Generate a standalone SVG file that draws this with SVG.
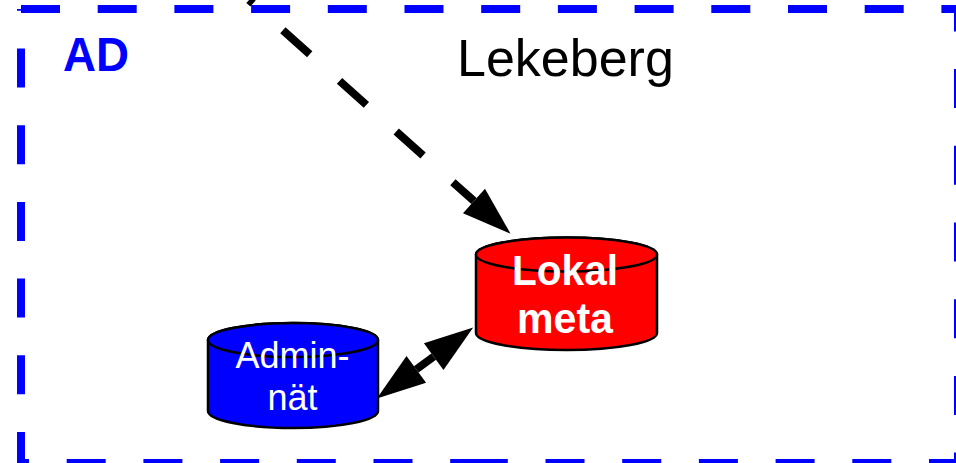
<svg xmlns="http://www.w3.org/2000/svg" width="956" height="463" viewBox="0 0 956 463">
  <style>
    .frame { fill: none; stroke: #0000FF; stroke-width: 8; stroke-dasharray: 39 37.7; }
    .cyl { stroke: #000; stroke-width: 2.5; }
    .txt { font-family: "Liberation Sans", Arial, sans-serif; }
    .conn { stroke: #000; stroke-width: 8; fill: none; }
  </style>
  <defs>
    <marker id="arrow" markerUnits="userSpaceOnUse" viewBox="0 -17 50 34" markerWidth="50" markerHeight="34" refX="0" refY="0" orient="auto-start-reverse" overflow="visible">
      <path d="M0,-16.5 L49,0 L0,16.5 Z" fill="#000"/>
    </marker>
  </defs>
  <rect width="956" height="463" fill="#fff"/>

  <g id="region-AD">
    <line class="frame" x1="21" y1="9" x2="958" y2="9" stroke-dashoffset="0"/>
    <line class="frame" x1="958" y1="9" x2="958" y2="463" stroke-dashoffset="16.6"/>
    <line class="frame" x1="958" y1="463" x2="468" y2="463" stroke-dashoffset="10"/>
    <line class="frame" x1="21" y1="463" x2="490" y2="463" stroke-dashoffset="31"/>
    <line class="frame" x1="21" y1="463" x2="21" y2="9" stroke-dashoffset="8"/>
    <text class="txt" x="63" y="71" font-size="49" font-weight="bold" fill="#0000FF" textLength="66" lengthAdjust="spacingAndGlyphs">AD</text>
    <text class="txt" x="457" y="76" font-size="52" fill="#000">Lekeberg</text>
  </g>

  <g id="connectors">
    <line class="conn" x1="249" y1="0" x2="474" y2="201" stroke-dasharray="36 40" stroke-dashoffset="30.6" marker-end="url(#arrow)"/>
    <line class="conn" x1="416.3" y1="369.4" x2="433.7" y2="356.6" marker-start="url(#arrow)" marker-end="url(#arrow)"/>
  </g>

  <g id="lokal-meta">
    <path class="cyl" fill="#FF0000" d="M476,254.5 V333 A90.5,17 0 0 0 657,333 V254.5 A90.5,17 0 0 0 476,254.5 Z"/>
    <ellipse class="cyl" fill="#FF0000" cx="566.5" cy="254.5" rx="90.5" ry="17"/>
    <text class="txt" x="565" y="285" font-size="43" font-weight="bold" fill="#fff" text-anchor="middle" textLength="106" lengthAdjust="spacingAndGlyphs">Lokal</text>
    <text class="txt" x="565" y="333" font-size="43" font-weight="bold" fill="#fff" text-anchor="middle" textLength="96" lengthAdjust="spacingAndGlyphs">meta</text>
  </g>

  <g id="admin-nat">
    <path class="cyl" fill="#0000FF" d="M208,340 V411 A85,17 0 0 0 378,411 V340 A85,17 0 0 0 208,340 Z"/>
    <ellipse class="cyl" fill="#0000FF" cx="293" cy="340" rx="85" ry="17"/>
    <text class="txt" x="292.5" y="368" font-size="36" fill="#fff" text-anchor="middle">Admin-</text>
    <text class="txt" x="292.5" y="410" font-size="36" fill="#fff" text-anchor="middle">nät</text>
  </g>
</svg>
